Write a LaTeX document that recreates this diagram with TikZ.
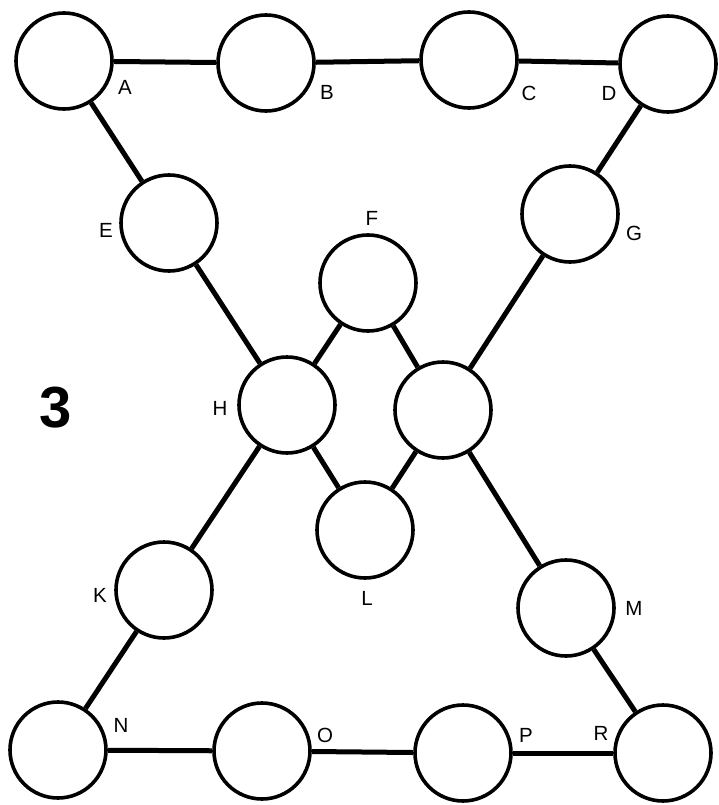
\documentclass[tikz,border=0pt]{standalone}
\usepackage{fontspec}
\setmainfont{Liberation Sans}
\begin{document}
\begin{tikzpicture}[x=1pt,y=-1pt,
  ball/.style={circle,draw,line width=3.6pt,minimum size=96pt,inner sep=0pt,fill=white},
  link/.style={line width=5pt},
  lbl/.style={font=\fontsize{20.5}{20.5}\selectfont,inner sep=0pt},
  bignum/.style={font=\fontsize{58}{58}\selectfont\bfseries,inner sep=0pt}]
\useasboundingbox (0,0) rectangle (718,805);
% circles
\node[ball] (n1) at (64,61) {};
\node[ball] (n2) at (266,63) {};
\node[ball] (n3) at (469,60) {};
\node[ball] (n4) at (668,64) {};
\node[ball] (e) at (169,223) {};
\node[ball] (g) at (570,214) {};
\node[ball] (f) at (368,283) {};
\node[ball] (h) at (287,405) {};
\node[ball] (x) at (443,410) {};
\node[ball] (l) at (365,530) {};
\node[ball] (k) at (164,590) {};
\node[ball] (m) at (566,608) {};
\node[ball] (b1) at (58,750) {};
\node[ball] (b2) at (262,751) {};
\node[ball] (b3) at (463,753) {};
\node[ball] (b4) at (663,753) {};
% connectors
\draw[link] (n1) -- (n2);
\draw[link] (n2) -- (n3);
\draw[link] (n3) -- (n4);
\draw[link] (n1) -- (e);
\draw[link] (e) -- (h);
\draw[link] (n4) -- (g);
\draw[link] (g) -- (x);
\draw[link] (h) -- (f);
\draw[link] (f) -- (x);
\draw[link] (h) -- (l);
\draw[link] (l) -- (x);
\draw[link] (h) -- (k);
\draw[link] (k) -- (b1);
\draw[link] (x) -- (m);
\draw[link] (m) -- (b4);
\draw[link] (b1) -- (b2);
\draw[link] (b2) -- (b3);
\draw[link] (b3) -- (b4);
% labels
\node[lbl] (tA) at (125,87) {A};
\node[lbl] (tB) at (327,92) {B};
\node[lbl] (tC) at (529,93) {C};
\node[lbl] (tD) at (609,93) {D};
\node[lbl] (tE) at (106,230) {E};
\node[lbl] (tF) at (372,218) {F};
\node[lbl] (tG) at (634,233) {G};
\node[lbl] (tH) at (220,408) {H};
\node[lbl] (tK) at (100,595) {K};
\node[lbl] (tL) at (367,598) {L};
\node[lbl] (tM) at (634,608) {M};
\node[lbl] (tN) at (121,725) {N};
\node[lbl] (tO) at (325,735) {O};
\node[lbl] (tP) at (526,735) {P};
\node[lbl] (tR) at (601,733) {R};
\node[bignum] (num) at (56,408) {3};
\end{tikzpicture}
\end{document}
